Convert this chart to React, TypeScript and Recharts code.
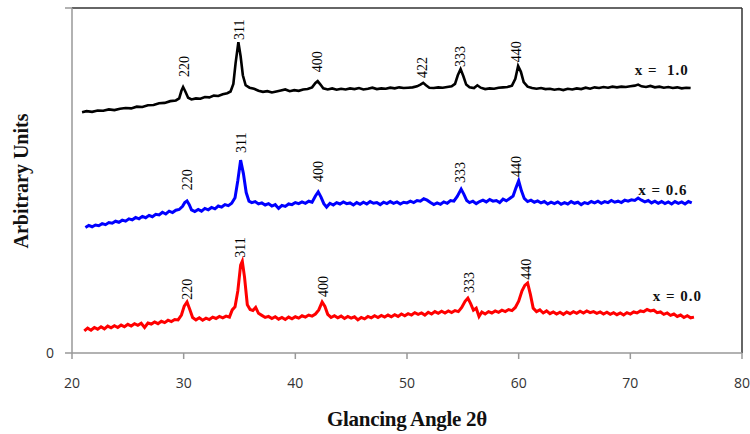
import { ComposedChart, Line, Scatter, XAxis, YAxis, ReferenceLine } from 'recharts';

// 2θ positions and intensities (arbitrary units, offset per sample)
const blackPattern: [number, number][] = [
  [20.9, 69.8], [21.3, 70.1], [21.8, 69.9], [22.3, 70.3], [22.8, 70.2], [23.3, 70.6], [23.8, 70.4], [24.3, 70.8],
  [24.8, 71.0], [25.3, 70.9], [25.8, 71.4], [26.3, 71.3], [26.8, 71.8], [27.3, 71.9], [27.8, 72.4], [28.3, 72.5],
  [28.8, 73.0], [29.3, 73.2], [29.6, 73.8], [29.8, 76.0], [29.95, 77.1], [30.15, 75.8], [30.4, 74.0], [30.7, 73.5],
  [31.1, 73.8], [31.5, 73.7], [31.9, 74.2], [32.3, 74.1], [32.7, 74.6], [33.1, 74.5], [33.5, 75.0], [33.9, 75.3],
  [34.2, 75.8], [34.45, 78.0], [34.65, 84.0], [34.9, 90.1], [35.1, 86.0], [35.3, 80.5], [35.55, 77.6], [35.9, 76.9],
  [36.3, 76.6], [36.7, 76.0], [37.1, 75.7], [37.5, 75.9], [37.9, 75.5], [38.3, 75.8], [38.7, 76.1], [39.1, 76.4],
  [39.5, 75.9], [39.9, 76.2], [40.3, 76.0], [40.7, 76.4], [41.1, 76.5], [41.5, 77.0], [41.8, 78.3], [42.0, 78.8],
  [42.25, 77.8], [42.5, 76.7], [42.9, 76.4], [43.3, 76.7], [43.7, 76.3], [44.1, 76.6], [44.5, 76.4], [44.9, 76.7],
  [45.3, 76.5], [45.7, 76.8], [46.1, 76.4], [46.5, 76.6], [46.9, 76.9], [47.3, 76.5], [47.7, 76.7], [48.1, 76.6],
  [48.5, 76.9], [48.9, 76.7], [49.3, 77.0], [49.7, 76.8], [50.1, 76.9], [50.5, 77.0], [50.9, 77.3], [51.2, 77.8],
  [51.45, 78.3], [51.7, 77.6], [52.0, 76.9], [52.4, 76.8], [52.8, 77.0], [53.2, 76.9], [53.6, 77.1], [54.0, 77.3],
  [54.3, 78.0], [54.55, 80.5], [54.8, 82.3], [55.05, 80.2], [55.3, 77.8], [55.6, 77.0], [56.0, 76.8], [56.3, 77.6],
  [56.6, 76.9], [57.0, 76.5], [57.4, 76.7], [57.8, 76.6], [58.2, 76.9], [58.6, 77.0], [59.0, 77.1], [59.4, 77.5],
  [59.7, 79.5], [59.95, 83.2], [60.2, 81.5], [60.45, 78.5], [60.8, 77.2], [61.2, 76.8], [61.6, 76.6], [62.0, 76.8],
  [62.4, 76.5], [62.8, 76.6], [63.2, 76.3], [63.6, 76.5], [64.0, 76.2], [64.4, 76.6], [64.8, 76.4], [65.2, 76.7],
  [65.6, 76.5], [66.0, 76.9], [66.4, 76.6], [66.8, 77.0], [67.2, 76.8], [67.6, 77.1], [68.0, 76.9], [68.4, 77.2],
  [68.8, 77.0], [69.2, 77.2], [69.6, 77.1], [70.0, 77.3], [70.4, 77.5], [70.7, 77.8], [71.0, 77.3], [71.4, 77.1],
  [71.8, 77.4], [72.2, 77.0], [72.6, 77.2], [73.0, 76.9], [73.4, 77.1], [73.8, 76.8], [74.2, 77.0], [74.6, 76.7],
  [75.0, 76.9], [75.4, 76.8],
];

const bluePattern: [number, number][] = [
  [21.2, 36.4], [21.5, 37.0], [21.8, 36.6], [22.1, 37.1], [22.4, 36.9], [22.7, 37.5], [23.0, 37.2], [23.3, 37.8],
  [23.6, 37.6], [23.9, 38.2], [24.2, 37.9], [24.5, 38.5], [24.8, 38.2], [25.1, 38.9], [25.4, 38.6], [25.7, 39.3],
  [26.0, 38.9], [26.3, 39.6], [26.6, 39.2], [26.9, 39.9], [27.2, 39.5], [27.5, 40.2], [27.8, 40.0], [28.1, 40.8],
  [28.4, 40.3], [28.7, 41.1], [29.0, 40.7], [29.3, 41.4], [29.6, 41.6], [29.9, 42.5], [30.1, 43.6], [30.3, 44.1],
  [30.5, 43.0], [30.7, 41.5], [31.0, 41.0], [31.3, 41.6], [31.6, 41.1], [31.9, 41.9], [32.2, 41.5], [32.5, 42.2],
  [32.8, 41.8], [33.1, 42.6], [33.4, 42.3], [33.7, 43.0], [34.0, 42.7], [34.3, 43.4], [34.6, 45.0], [34.85, 50.0],
  [35.1, 55.9], [35.35, 52.0], [35.6, 46.5], [35.85, 44.0], [36.1, 43.6], [36.4, 43.9], [36.7, 43.2], [37.0, 43.5],
  [37.3, 42.9], [37.6, 43.3], [37.9, 42.6], [38.2, 43.0], [38.5, 41.9], [38.8, 42.8], [39.1, 42.5], [39.4, 43.2],
  [39.7, 43.0], [40.0, 43.6], [40.3, 43.3], [40.6, 43.8], [40.9, 43.4], [41.2, 44.0], [41.5, 43.7], [41.8, 45.5],
  [42.05, 46.7], [42.3, 45.2], [42.55, 43.3], [42.8, 42.3], [43.1, 43.4], [43.4, 42.9], [43.7, 43.6], [44.0, 43.2],
  [44.3, 43.8], [44.6, 43.3], [44.9, 43.5], [45.2, 42.9], [45.5, 43.6], [45.8, 43.1], [46.1, 43.7], [46.4, 43.2],
  [46.7, 43.9], [47.0, 43.4], [47.3, 43.6], [47.6, 43.0], [47.9, 43.7], [48.2, 43.3], [48.5, 43.9], [48.8, 43.4],
  [49.1, 43.8], [49.4, 43.2], [49.7, 43.7], [50.0, 43.5], [50.3, 44.0], [50.6, 43.6], [50.9, 44.2], [51.2, 44.0],
  [51.5, 44.7], [51.8, 44.3], [52.1, 43.6], [52.4, 43.0], [52.7, 43.5], [53.0, 43.1], [53.3, 43.8], [53.6, 43.4],
  [53.9, 44.2], [54.2, 44.0], [54.5, 45.4], [54.85, 47.5], [55.1, 46.0], [55.35, 44.2], [55.6, 43.6], [55.9, 44.0],
  [56.2, 43.3], [56.5, 43.9], [56.8, 44.3], [57.1, 43.8], [57.4, 44.5], [57.7, 44.0], [58.0, 44.2], [58.3, 43.6],
  [58.6, 44.6], [58.9, 44.1], [59.2, 44.8], [59.5, 45.5], [59.75, 47.8], [60.0, 49.9], [60.25, 47.0], [60.5, 44.8],
  [60.8, 43.9], [61.1, 44.3], [61.4, 43.7], [61.7, 44.1], [62.0, 43.5], [62.3, 43.9], [62.6, 43.2], [62.9, 43.7],
  [63.2, 43.3], [63.5, 43.8], [63.8, 43.1], [64.1, 43.6], [64.4, 43.2], [64.7, 43.9], [65.0, 43.4], [65.3, 43.7],
  [65.6, 43.0], [65.9, 43.6], [66.2, 43.3], [66.5, 43.9], [66.8, 43.5], [67.1, 44.0], [67.4, 43.4], [67.7, 43.9],
  [68.0, 43.6], [68.3, 44.2], [68.6, 43.7], [68.9, 44.0], [69.2, 43.6], [69.5, 44.3], [69.8, 44.0], [70.1, 44.4],
  [70.4, 44.2], [70.7, 44.9], [71.0, 44.3], [71.3, 43.8], [71.6, 44.2], [71.9, 43.5], [72.2, 44.0], [72.5, 43.4],
  [72.8, 43.9], [73.1, 43.3], [73.4, 43.8], [73.7, 43.2], [74.0, 43.9], [74.3, 43.4], [74.6, 43.8], [74.9, 43.2],
  [75.2, 43.9], [75.5, 43.5],
];

const redPattern: [number, number][] = [
  [21.1, 6.4], [21.4, 7.2], [21.7, 6.6], [22.0, 7.4], [22.3, 6.9], [22.6, 7.6], [22.9, 7.0], [23.2, 7.8],
  [23.5, 7.3], [23.8, 7.9], [24.1, 7.4], [24.4, 8.1], [24.7, 7.6], [25.0, 8.3], [25.3, 7.8], [25.6, 8.5],
  [25.9, 8.0], [26.2, 8.6], [26.5, 7.4], [26.8, 8.7], [27.1, 8.4], [27.4, 9.0], [27.7, 8.5], [28.0, 9.2],
  [28.3, 8.8], [28.6, 9.5], [28.9, 9.1], [29.2, 9.7], [29.5, 9.6], [29.8, 11.0], [30.05, 13.6], [30.3, 14.8],
  [30.55, 12.6], [30.8, 10.3], [31.1, 9.6], [31.4, 10.2], [31.7, 9.5], [32.0, 10.1], [32.3, 9.7], [32.6, 10.4],
  [32.9, 10.0], [33.2, 10.6], [33.5, 10.2], [33.8, 10.7], [34.1, 10.4], [34.35, 12.5], [34.6, 13.4], [34.85, 18.0],
  [35.1, 25.5], [35.25, 26.6], [35.45, 22.0], [35.7, 14.0], [35.95, 12.6], [36.2, 12.3], [36.45, 13.2], [36.7, 11.5],
  [37.0, 10.9], [37.3, 10.3], [37.6, 10.6], [37.9, 10.0], [38.2, 10.5], [38.5, 9.8], [38.8, 10.3], [39.1, 9.7],
  [39.4, 10.4], [39.7, 9.9], [40.0, 10.5], [40.3, 10.1], [40.6, 10.8], [40.9, 10.4], [41.2, 11.0], [41.5, 10.7],
  [41.8, 11.3], [42.1, 12.5], [42.4, 14.8], [42.65, 13.5], [42.9, 11.2], [43.2, 10.3], [43.5, 10.8], [43.8, 10.2],
  [44.1, 10.7], [44.4, 10.0], [44.7, 10.6], [45.0, 10.1], [45.3, 10.5], [45.6, 9.6], [45.9, 10.3], [46.2, 9.9],
  [46.5, 10.6], [46.8, 10.2], [47.1, 10.8], [47.4, 10.3], [47.7, 10.9], [48.0, 10.4], [48.3, 11.0], [48.6, 10.5],
  [48.9, 11.1], [49.2, 10.6], [49.5, 11.3], [49.8, 10.8], [50.1, 11.4], [50.4, 11.0], [50.7, 11.7], [51.0, 11.2],
  [51.3, 11.6], [51.6, 11.0], [51.9, 11.8], [52.2, 11.3], [52.5, 12.0], [52.8, 11.5], [53.1, 12.1], [53.4, 11.6],
  [53.7, 12.2], [54.0, 11.7], [54.3, 12.3], [54.6, 12.0], [54.9, 13.2], [55.2, 15.0], [55.45, 15.9], [55.7, 14.3],
  [55.95, 12.4], [56.2, 13.0], [56.45, 10.6], [56.7, 11.9], [57.0, 11.3], [57.3, 12.0], [57.6, 11.6], [57.9, 12.2],
  [58.2, 11.8], [58.5, 12.4], [58.8, 12.0], [59.1, 12.6], [59.4, 12.3], [59.7, 13.2], [60.0, 15.0], [60.3, 18.0],
  [60.55, 19.6], [60.8, 20.3], [61.05, 17.0], [61.3, 13.0], [61.6, 12.0], [61.9, 12.5], [62.2, 11.6], [62.5, 12.2],
  [62.8, 11.4], [63.1, 11.9], [63.4, 11.3], [63.7, 11.8], [64.0, 11.2], [64.3, 11.9], [64.6, 11.4], [64.9, 12.0],
  [65.2, 11.5], [65.5, 12.1], [65.8, 11.6], [66.1, 12.2], [66.4, 11.7], [66.7, 12.0], [67.0, 11.5], [67.3, 11.9],
  [67.6, 11.3], [67.9, 11.8], [68.2, 11.2], [68.5, 11.7], [68.8, 11.1], [69.1, 11.6], [69.4, 11.0], [69.7, 11.7],
  [70.0, 11.3], [70.3, 11.9], [70.6, 11.6], [70.9, 12.2], [71.2, 12.0], [71.5, 12.6], [71.8, 12.2], [72.1, 12.4],
  [72.4, 11.7], [72.7, 11.9], [73.0, 11.2], [73.3, 11.6], [73.6, 10.9], [73.9, 11.3], [74.2, 10.6], [74.5, 11.0],
  [74.8, 10.3], [75.1, 10.8], [75.4, 10.2], [75.7, 10.4],
];

// hkl labels: x = 2θ, y = where the (rotated) label starts
const peakLabels = [
  { x: 30.1, y: 80.0, text: '220' },
  { x: 35.0, y: 90.7, text: '311' },
  { x: 42.0, y: 81.4, text: '400' },
  { x: 51.4, y: 79.7, text: '422' },
  { x: 54.8, y: 82.9, text: '333' },
  { x: 59.8, y: 84.3, text: '440' },
  { x: 30.3, y: 47.2, text: '220' },
  { x: 35.2, y: 58.0, text: '311' },
  { x: 42.1, y: 49.6, text: '400' },
  { x: 54.8, y: 49.3, text: '333' },
  { x: 59.8, y: 51.0, text: '440' },
  { x: 30.3, y: 15.4, text: '220' },
  { x: 35.1, y: 27.6, text: '311' },
  { x: 42.5, y: 16.2, text: '400' },
  { x: 55.6, y: 17.4, text: '333' },
  { x: 60.7, y: 21.2, text: '440' },
];

const sampleLabels = [
  { x: 70.4, y: 82.0, text: 'x =  1.0' },
  { x: 70.7, y: 47.2, text: 'x = 0.6' },
  { x: 72.0, y: 16.5, text: 'x = 0.0' },
];

const xTicks = [20, 30, 40, 50, 60, 70, 80];

const toPoints = (rows: [number, number][]) => rows.map(([x, y]) => ({ x, y }));

const serif = '"Liberation Serif", "Times New Roman", serif';
const sans = '"Open Sans", "Liberation Sans", sans-serif';

function PeakLabel(props: any) {
  const { cx, cy, payload } = props;
  return (
    <text
      x={cx}
      y={cy}
      transform={`rotate(-90 ${cx} ${cy})`}
      textAnchor="start"
      dominantBaseline="central"
      fontFamily={serif}
      fontSize={14}
      fill="#000"
    >
      {payload.text}
    </text>
  );
}

function SampleLabel(props: any) {
  const { cx, cy, payload } = props;
  return (
    <text
      x={cx}
      y={cy}
      textAnchor="start"
      dominantBaseline="central"
      fontFamily={serif}
      fontSize={15}
      fontWeight="bold"
      letterSpacing={1}
      style={{ whiteSpace: 'pre' }}
      fill="#111"
    >
      {payload.text}
    </text>
  );
}

export default function App() {
  return (
    <div style={{ position: 'absolute', left: 0, top: 0, background: '#fff' }}>
      <ComposedChart width={750} height={434} margin={{ top: 8, right: 8, left: 12, bottom: 51 }}>
        <XAxis
          type="number"
          dataKey="x"
          domain={[20, 80]}
          ticks={xTicks}
          allowDataOverflow
          height={30}
          axisLine={{ stroke: '#999', strokeWidth: 1.5 }}
          tickLine={{ stroke: '#999', strokeWidth: 1.5 }}
          tickSize={6}
          tickMargin={19}
          tick={{ fontFamily: sans, fontSize: 14, fill: '#333' }}
        />
        <YAxis
          type="number"
          domain={[0, 100]}
          ticks={[0, 100]}
          width={60}
          allowDataOverflow
          axisLine={{ stroke: '#999', strokeWidth: 1.5 }}
          tickLine={{ stroke: '#999', strokeWidth: 1.5 }}
          tickSize={7}
          tickMargin={11}
          tickFormatter={(v: number) => (v === 0 ? '0' : '')}
          tick={{ fontFamily: sans, fontSize: 14, fill: '#333' }}
        />
        <ReferenceLine y={100} stroke="#333" strokeWidth={1.5} />
        <ReferenceLine x={80} stroke="#333" strokeWidth={1.5} />

        <Line data={toPoints(blackPattern)} dataKey="y" type="linear" stroke="#000" strokeWidth={2.6} dot={false} isAnimationActive={false} />
        <Line data={toPoints(bluePattern)} dataKey="y" type="linear" stroke="#0000ff" strokeWidth={3} dot={false} isAnimationActive={false} />
        <Line data={toPoints(redPattern)} dataKey="y" type="linear" stroke="#ff0000" strokeWidth={3} dot={false} isAnimationActive={false} />

        <Scatter data={peakLabels} dataKey="y" shape={PeakLabel} isAnimationActive={false} />
        <Scatter data={sampleLabels} dataKey="y" shape={SampleLabel} isAnimationActive={false} />

        <text x={407} y={426} textAnchor="middle" fontFamily={serif} fontSize={21} fontWeight="bold" letterSpacing={-0.3} fill="#111">
          Glancing Angle 2θ
        </text>
        <text
          x={28}
          y={181}
          transform="rotate(-90 28 181)"
          textAnchor="middle"
          fontFamily={serif}
          fontSize={20}
          fontWeight="bold"
          fill="#111"
        >
          Arbitrary Units
        </text>
      </ComposedChart>
    </div>
  );
}
